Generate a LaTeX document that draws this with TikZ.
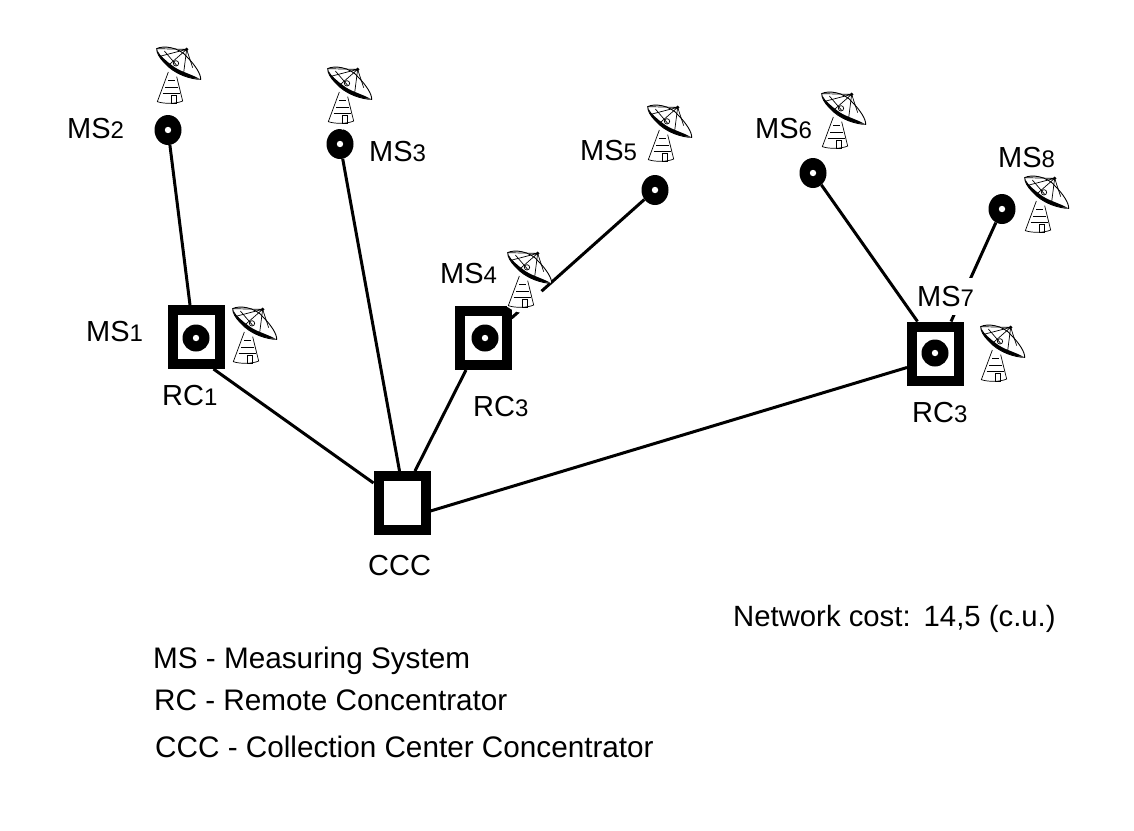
\documentclass[tikz,border=0pt]{standalone}
\usepackage{fontspec}
\setmainfont{Liberation Sans}
\usetikzlibrary{shapes.geometric}
\newcommand{\sub}[1]{{\fontsize{24}{24}\selectfont #1}}
\tikzset{
  x=1pt,y=-1pt,
  msdot/.style={ellipse,fill=black,minimum width=27pt,minimum height=30pt,inner sep=0pt,
    path picture={\fill[white] (path picture bounding box.center) circle (3.2pt);}},
  msin/.style={msdot,minimum height=27pt},
  sq/.style={rectangle,draw=black,fill=white,line width=10pt,minimum width=47pt,minimum height=54pt,inner sep=0pt},
  link/.style={line width=3pt,black},
  lab/.style={font=\fontsize{29}{29}\selectfont,inner sep=0pt,anchor=base west},
  leg/.style={font=\fontsize{29.7}{30}\selectfont,inner sep=0pt,anchor=base west},
  antenna/.pic={
    \begin{scope}[x=0.3333pt,y=-0.3333pt,line width=0.7pt]
      \fill[white] (37,78) -- (100,95) -- (100,121) -- (108,129) -- (47,191) -- (18,181) -- (0,170) -- cycle;
      % tower
      \draw[fill=white] (37,78) -- (4,167) .. controls (25,174) and (60,174) .. (80,165) -- (62,92);
      \draw (36,104) -- (58,104) (28,125) -- (66,125) (20,143) -- (72,143);
      \draw (45,149) rectangle (62,171);
      % dish
      \draw[fill=white,line width=0.9pt] (2,8) .. controls (20,-2) and (70,2) .. (95,35) .. controls (118,58) and (135,85) .. (134,100) .. controls (105,100) and (55,85) .. (25,50) .. controls (10,35) and (2,20) .. (2,8) -- cycle;
      \draw (2,8) -- (92,10) -- (82,88) (92,10) -- (35,60) (92,10) -- (110,65) (25,15) -- (62,58) (15,30) -- (92,10);
      \fill[black] (3,12) .. controls (8,35) and (30,62) .. (70,84) .. controls (95,95) and (115,98) .. (130,98) .. controls (100,82) and (70,76) .. (48,58) .. controls (30,44) and (12,30) .. (3,12) -- cycle;
      \fill[black] (92,10) circle (5.5);
      \draw (60,52) circle (8);
    \end{scope}
  }
}
\begin{document}
\begin{tikzpicture}
\useasboundingbox (0,0) rectangle (1134,830);
\fill[white] (0,0) rectangle (1134,830);
% nodes
\node[sq] (rc1) at (196.5,337) {};
\node[sq] (rc2) at (483,338) {};
\node[sq] (rc3) at (935.5,353.5) {};
\node[sq] (ccc) at (402,503) {};
\node[msin] (ms1) at (196,338) {};
\node[msin] (ms4) at (485,338) {};
\node[msin] (ms7) at (935,353) {};
\node[msdot] (ms2) at (168,130) {};
\node[msdot] (ms3) at (340,144) {};
\node[msdot] (ms5) at (655,190) {};
\node[msdot] (ms6) at (813,173) {};
\node[msdot] (ms8) at (1002,209) {};
% connectors
\draw[link] (ms2) -- ([xshift=-6.5pt]rc1.north);
\draw[link] (ms3) -- ([xshift=-2.5pt]ccc.north);
\draw[link] (ms5) -- ([yshift=20pt]rc2.east);
\draw[link] (ms6) -- ([xshift=-18pt]rc3.north);
\draw[link] (ms8) -- ([xshift=15.5pt]rc3.north);
\draw[link] ([xshift=17pt]rc1.south) -- ([yshift=20pt]ccc.west);
\draw[link] ([xshift=13pt]ccc.north) -- ([xshift=-17pt]rc2.south);
\draw[link] ([yshift=-8pt]ccc.east) -- ([yshift=-14pt]rc3.west);
% antennas
\pic at (156,46) {antenna};
\pic at (327,66) {antenna};
\pic at (647,104) {antenna};
\pic at (821,91) {antenna};
\pic at (1024,175) {antenna};
\pic at (232,306) {antenna};
\pic at (507,250) {antenna};
\pic at (980,324) {antenna};
% labels
\node[lab] (l2) at (67,138.5) {MS\sub{2}};
\node[lab] (l3) at (369,161) {MS\sub{3}};
\node[lab] (l5) at (580,160) {MS\sub{5}};
\node[lab] (l6) at (755,138) {MS\sub{6}};
\node[lab] (l8) at (998,167) {MS\sub{8}};
\node[lab] (l1) at (86,341) {MS\sub{1}};
\node[lab] (l4) at (440,283) {MS\sub{4}};
\node[lab,fill=white,text height=28.5pt,text depth=9pt] (l7) at (917,306) {MS\sub{7}};
\node[lab] (r1) at (162,405) {RC\sub{1}};
\node[lab] (r2) at (473,416) {RC\sub{3}};
\node[lab] (r3) at (912,422) {RC\sub{3}};
\node[lab] (c) at (368,575) {CCC};
\node[leg,font=\fontsize{29.3}{30}\selectfont] (cost) at (733,626) {Network cost:\;\,14,5 (c.u.)};
\node[leg] (k1) at (153,668) {MS - Measuring System};
\node[leg] (k2) at (154,710) {RC - Remote Concentrator};
\node[leg] (k3) at (155,757) {CCC - Collection Center Concentrator};
\end{tikzpicture}
\end{document}
